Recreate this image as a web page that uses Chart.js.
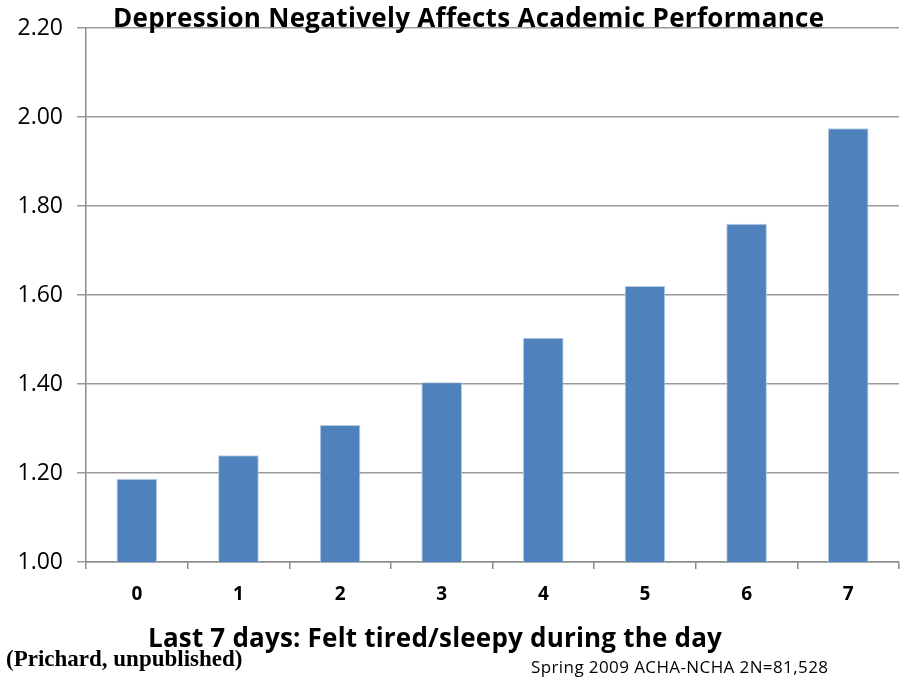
<!DOCTYPE html>
<html>
<head>
<meta charset="utf-8">
<script src="https://cdn.jsdelivr.net/npm/chart.js@4"></script>
<style>
  body { margin: 0; background: #fff; }
  #wrap { position: relative; width: 900px; height: 678px; }
  .txt { position: absolute; white-space: nowrap; color: #000; line-height: 1; }
  #title { left: 113px; top: -1px; font: bold 26px "Open Sans", sans-serif; letter-spacing: 0.3px; }
  #xtitle { left: 148px; top: 619px; font: bold 26px "Open Sans", sans-serif; letter-spacing: 0.2px; }
  #src { left: 6px; top: 646px; font: bold 23px "Liberation Serif", serif; letter-spacing: 0px; }
  #note { left: 531px; top: 655px; font: 17px "Open Sans", sans-serif; letter-spacing: 0.4px; }
</style>
</head>
<body>
<div id="wrap">
  <canvas id="chart" width="900" height="678"></canvas>
  <div class="txt" id="title">Depression Negatively Affects Academic Performance</div>
  <div class="txt" id="xtitle">Last 7 days: Felt tired/sleepy during the day</div>
  <div class="txt" id="src">(Prichard, unpublished)</div>
  <div class="txt" id="note">Spring 2009 ACHA-NCHA 2N=81,528</div>
</div>
<script>
const days = ["0", "1", "2", "3", "4", "5", "6", "7"];
const scores = [1.187, 1.240, 1.308, 1.404, 1.504, 1.620, 1.760, 1.975];

new Chart(document.getElementById("chart"), {
  type: "bar",
  data: {
    labels: days,
    datasets: [{
      data: scores,
      backgroundColor: "#4f81bd",
      borderColor: "#b9cde5",
      borderWidth: { top: 1, left: 1, right: 1, bottom: 0 },
      categoryPercentage: 0.4,
      barPercentage: 1
    }]
  },
  options: {
    responsive: false,
    animation: false,
    layout: { padding: { top: 28, right: 1, left: 0, bottom: 0 } },
    plugins: { legend: { display: false }, tooltip: { enabled: false } },
    scales: {
      x: {
        afterFit: s => { s.height = 116; },
        grid: { drawOnChartArea: false, color: "#8c8c8c", lineWidth: 1.5, tickLength: 7 },
        border: { color: "#8c8c8c", width: 1.5 },
        ticks: { color: "#000", font: { family: "Open Sans", size: 19, weight: "bold" }, padding: 14 }
      },
      y: {
        min: 1.0,
        max: 2.2,
        afterFit: s => { s.width = 86; },
        grid: { color: "#999", lineWidth: 1.5, tickLength: 9 },
        border: { color: "#8c8c8c", width: 1.5 },
        ticks: {
          stepSize: 0.2,
          color: "#000",
          padding: 14,
          font: { family: "Open Sans", size: 23 },
          callback: v => v.toFixed(2)
        }
      }
    }
  }
});
</script>
</body>
</html>
